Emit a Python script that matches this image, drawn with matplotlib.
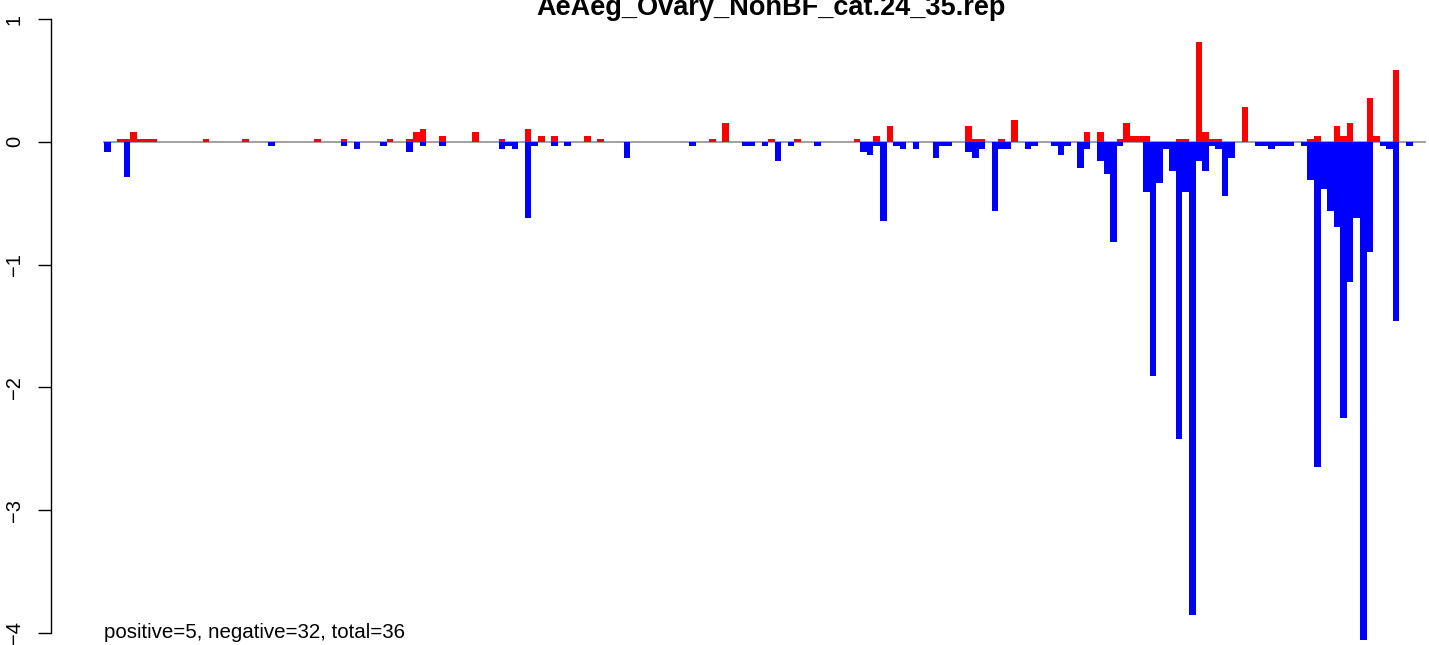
import numpy as np
import matplotlib
matplotlib.use("Agg")
import matplotlib.pyplot as plt

plt.rcParams['font.family'] = ['Liberation Sans', 'DejaVu Sans']

title = "AeAeg_Ovary_NonBF_cat.24_35.rep"
summary = "positive=5, negative=32, total=36"
n_bins = 200

# positive (red) bars: bin index -> value
pos_idx = [2, 3, 4, 5, 6, 7, 15, 21, 32, 36, 43, 46, 47, 48, 51, 56, 60, 64, 66, 68,
           73, 75, 92, 94, 101, 105, 114, 117, 119, 131, 132, 133, 136, 138, 149, 151,
           154, 155, 156, 157, 158, 163, 164, 166, 167, 168, 169, 173, 183, 184, 187,
           188, 189, 192, 193, 196]
pos_val = [0.023, 0.023, 0.08, 0.023, 0.023, 0.023, 0.023, 0.023, 0.023, 0.023, 0.023,
           0.023, 0.08, 0.104, 0.047, 0.08, 0.023, 0.104, 0.047, 0.047,
           0.047, 0.023, 0.023, 0.153, 0.023, 0.023, 0.023, 0.047, 0.129, 0.129, 0.023,
           0.023, 0.023, 0.178, 0.082, 0.082,
           0.025, 0.156, 0.05, 0.05, 0.05, 0.025, 0.025, 0.81, 0.08, 0.025, 0.025, 0.283,
           0.025, 0.05, 0.129, 0.05, 0.153, 0.357, 0.05, 0.585]

# negative (blue) bars: bin index -> value
neg_idx = [0, 3, 25, 36, 38, 42, 46, 48, 51, 60, 61, 62, 64, 65, 68, 70, 79, 89, 97, 98,
           100, 102, 104, 108, 115, 116, 117, 118, 120, 121, 123, 126, 127, 128, 131, 132,
           133, 135, 136, 137, 140, 141, 144, 145, 146, 148, 149, 151, 152, 153, 154, 158,
           159, 160, 161, 162, 163, 164, 165, 166, 167, 168, 169, 170, 171, 175, 176, 177,
           178, 179, 180, 182, 183, 184, 185, 186, 187, 188, 189, 190, 191, 192, 194, 195,
           196, 198]
neg_val = [-0.08, -0.287, -0.035, -0.035, -0.06, -0.035, -0.08, -0.035, -0.035, -0.06,
           -0.035, -0.06, -0.618, -0.035, -0.035, -0.035, -0.13, -0.035, -0.035, -0.035,
           -0.035, -0.156, -0.035, -0.035, -0.083, -0.107, -0.035, -0.645, -0.035, -0.06,
           -0.06, -0.13, -0.035, -0.035, -0.083, -0.13,
           -0.06, -0.563, -0.06, -0.06, -0.06, -0.035, -0.035, -0.107, -0.035, -0.213,
           -0.06, -0.156, -0.26, -0.82, -0.035, -0.41,
           -1.91, -0.335, -0.06, -0.235, -2.42, -0.41, -3.85, -0.155, -0.235, -0.035,
           -0.06, -0.44, -0.13, -0.035, -0.035, -0.06,
           -0.035, -0.035, -0.035, -0.035, -0.31, -2.65, -0.385, -0.56, -0.69, -2.25,
           -1.145, -0.62, -4.06, -0.895, -0.035, -0.057,
           -1.46, -0.035]

y_ticks = [-4, -3, -2, -1, 0, 1]

pos = np.zeros(n_bins)
pos[pos_idx] = pos_val
neg = np.zeros(n_bins)
neg[neg_idx] = neg_val
x = np.arange(n_bins)

W, H = 1429, 645
fig = plt.figure(figsize=(W / 100, H / 100), dpi=100)
left_px = 50.7
ax = fig.add_axes([left_px / W, 0, 1 - left_px / W, 1])

# pixel geometry of the R barplot
bar_px = 6.576
x0_px = 104
y0_px = 141.8
unit_px = 122.8
ax.set_xlim((left_px - x0_px) / bar_px, (W - x0_px) / bar_px)
ax.set_ylim(-(H - y0_px) / unit_px, y0_px / unit_px)

ax.plot([0, (1425 - x0_px) / bar_px], [0, 0], color='#999999', lw=1.3, zorder=1)
ax.bar(x, pos, width=1, align='edge', color='#ff0000', linewidth=0, zorder=2)
ax.bar(x, neg, width=1, align='edge', color='#0000ff', linewidth=0, zorder=2)

for s in ['top', 'right', 'bottom']:
    ax.spines[s].set_visible(False)
ax.spines['left'].set_bounds(-4, 1)
ax.spines['left'].set_linewidth(1)
ax.set_xticks([])
ax.set_yticks(y_ticks)
ax.set_yticklabels([str(t).replace('-', '\u2212') for t in y_ticks])
ax.tick_params(axis='y', length=9.4, width=1, pad=10, labelsize=14.5)
for lab in ax.get_yticklabels():
    lab.set_rotation(90)
    lab.set_va('center')
ax.patch.set_alpha(0)

fig.text(771 / W, 1 - 15 / H, title, ha='center', va='baseline',
         fontsize=19.5, fontweight='bold')
fig.text(104 / W, 7 / H, summary, ha='left', va='baseline', fontsize=14.8)

fig.savefig('out.png', dpi=100)
